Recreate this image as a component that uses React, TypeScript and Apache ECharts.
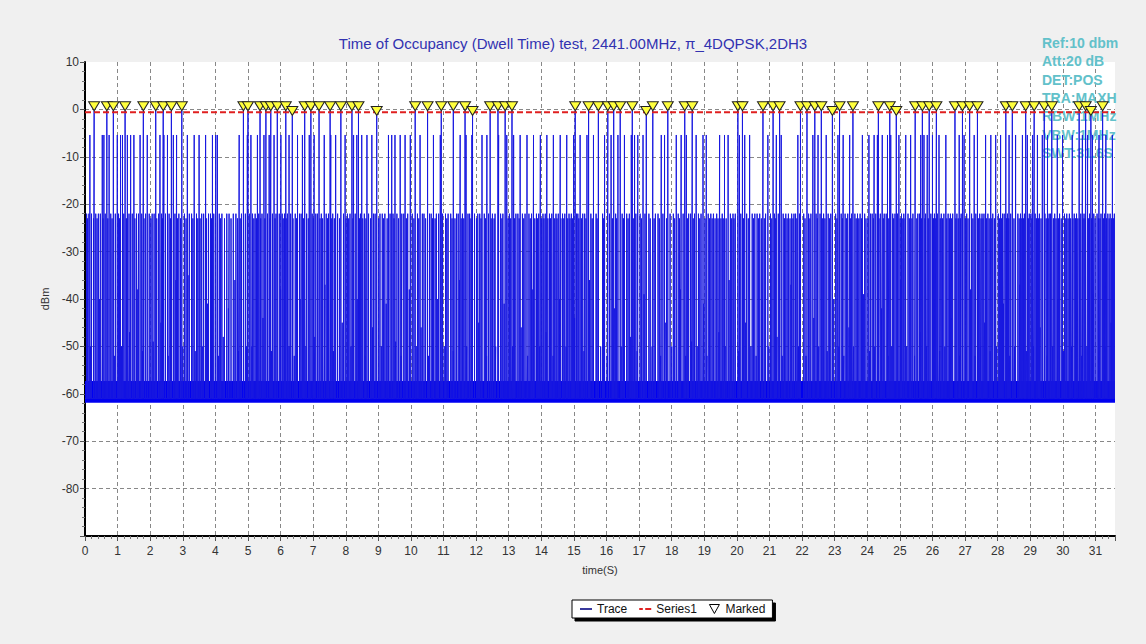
import React, { useEffect, useRef } from "react";
import * as echarts from "echarts";

const TITLE = "Time of Occupancy (Dwell Time) test, 2441.00MHz, π_4DQPSK,2DH3";
const INFO_LINES = ["Ref:10 dbm", "Att:20 dB", "DET:POS", "TRA:MAXH", "RBW:1MHz", "VBW:1MHz", "SWT:31.6S"];
const X_MIN = 0;
const X_MAX = 31.6;
const Y_MIN = -90;
const Y_MAX = 10;
const NOISE_FLOOR = -61;
const NOISE_BAND = [-61.9, -57.3];
const THRESHOLD = -0.6;
const MID_LEVEL = -5.4;
const LOW_LEVEL = -22;
const LOW_LEVEL_2 = -23;

// [time (s), peak (dBm)] of the marked hops
const markedPulses: [number, number][] = [
  [0.28, -0.3], [0.67, -0.3], [0.87, -0.3], [1.23, -0.3], [1.79, -0.3], [2.17, -0.3], [2.4, -0.3],
  [2.65, -0.3], [2.97, -0.3], [4.86, -0.3], [5.0, -0.3], [5.37, -0.3], [5.55, -0.3], [5.7, -0.3],
  [5.9, -0.3], [6.16, -0.3], [6.36, -1.3], [6.74, -0.3], [6.93, -0.3], [7.18, -0.3], [7.52, -0.3],
  [7.85, -0.3], [8.19, -0.3], [8.39, -0.3], [8.95, -1.3], [10.13, -0.3], [10.51, -0.3], [10.93, -0.3],
  [11.3, -0.3], [11.66, -0.3], [11.89, -1.3], [12.43, -0.3], [12.67, -0.3], [12.89, -0.3], [13.1, -0.3],
  [15.04, -0.3], [15.45, -0.3], [15.75, -0.3], [16.04, -0.3], [16.22, -0.3], [16.42, -0.3], [16.79, -0.3],
  [17.22, -1.3], [17.42, -0.3], [17.88, -0.3], [18.4, -0.3], [18.63, -0.3], [20.03, -0.3], [20.17, -0.3],
  [20.8, -0.3], [21.11, -0.3], [21.31, -0.3], [21.95, -0.3], [22.15, -0.3], [22.39, -0.3], [22.59, -0.3],
  [22.93, -1.3], [23.15, -0.3], [23.56, -0.3], [24.34, -0.3], [24.69, -0.3], [24.89, -1.3], [25.47, -0.3],
  [25.69, -0.3], [25.9, -0.3], [26.12, -0.3], [26.69, -0.3], [26.92, -0.3], [27.14, -0.3], [27.38, -0.3],
  [28.25, -0.3], [28.45, -0.3], [28.86, -0.3], [29.12, -0.3], [29.43, -0.3], [29.66, -0.3], [30.5, -0.3],
  [30.7, -0.3], [30.86, -1.3], [31.22, -0.3],
];

// hops that peak near -5.4 dBm
const midPulseTimes = [
  0.15, 0.53, 0.58, 0.74, 0.99, 1.09, 1.15, 1.3, 1.4, 1.5, 1.69, 1.91, 2.3, 2.42, 2.53, 2.71, 2.81,
  3.14, 3.35, 3.5, 3.7, 3.91, 4.01, 4.06, 4.73, 4.98, 5.09, 5.29, 5.49, 5.65, 5.8, 6.01, 6.26, 6.52,
  6.67, 6.88, 7.03, 7.34, 7.54, 7.69, 7.98, 8.24, 8.34, 8.49, 8.65, 8.8, 9.31, 9.41, 9.51, 9.67, 9.82,
  9.98, 10.28, 10.69, 10.9, 11.51, 11.69, 11.87, 12.18, 12.33, 12.69, 12.94, 13.15, 13.35, 13.56, 13.76,
  13.97, 14.17, 14.37, 14.58, 14.78, 14.99, 15.19, 15.4, 15.6, 15.94, 16.14, 16.35, 16.55, 16.76, 16.86,
  16.96, 17.12, 17.68, 17.78, 18.14, 18.29, 18.45, 18.75, 18.96, 19.06, 19.47, 19.62, 19.73, 20.08,
  20.24, 20.39, 20.95, 21.21, 21.36, 21.87, 22.33, 22.49, 22.74, 23.1, 23.26, 23.46, 23.85, 24.05, 24.21,
  24.31, 24.46, 24.62, 24.72, 24.97, 25.18, 25.33, 25.64, 25.74, 25.84, 26.0, 26.2, 26.41, 26.82, 26.97,
  27.28, 27.63, 27.79, 27.94, 28.09, 28.35, 28.55, 28.76, 28.91, 29.07, 29.22, 29.37, 29.53, 29.83,
  29.99, 30.29, 30.6, 30.76, 30.91, 31.11, 31.32, 31.52,
];

// hops that peak near -22 dBm
const lowPulseTimes = [
  0.05, 0.12, 0.2, 0.33, 0.41, 0.47, 0.62, 0.79, 0.93, 1.03, 1.19, 1.35, 1.45, 1.58, 1.64, 1.74, 1.86,
  1.97, 2.06, 2.12, 2.26, 2.35, 2.47, 2.58, 2.76, 2.88, 3.05, 3.2, 3.27, 3.42, 3.58, 3.64, 3.79, 3.85,
  3.95, 4.12, 4.2, 4.35, 4.42, 4.55, 4.63, 4.8, 4.92, 5.04, 5.14, 5.22, 5.33, 5.43, 5.6, 5.75, 5.86,
  5.96, 6.05, 6.12, 6.21, 6.31, 6.45, 6.58, 6.63, 6.8, 6.97, 7.08, 7.13, 7.25, 7.4, 7.47, 7.6, 7.75,
  7.93, 8.05, 8.13, 8.29, 8.45, 8.57, 8.7, 8.85, 8.9, 9.05, 9.12, 9.2, 9.36, 9.45, 9.57, 9.72, 9.78,
  9.9, 10.04, 10.2, 10.35, 10.4, 10.57, 10.62, 10.78, 10.85, 10.97, 11.06, 11.14, 11.22, 11.4, 11.45,
  11.58, 11.75, 11.8, 11.95, 12.05, 12.11, 12.25, 12.38, 12.5, 12.58, 12.75, 12.82, 13.02, 13.22,
  13.28, 13.42, 13.5, 13.62, 13.7, 13.85, 13.92, 14.05, 14.12, 14.25, 14.32, 14.45, 14.52, 14.65,
  14.72, 14.85, 14.92, 15.08, 15.12, 15.27, 15.33, 15.52, 15.68, 15.88, 16.09, 16.28, 16.48, 16.62,
  16.7, 16.9, 17.03, 17.18, 17.3, 17.5, 17.58, 17.73, 17.95, 18.05, 18.2, 18.35, 18.52, 18.58, 18.7,
  18.82, 18.9, 19.12, 19.2, 19.28, 19.38, 19.55, 19.8, 19.88, 19.95, 20.12, 20.3, 20.47, 20.55, 20.62,
  20.7, 20.88, 21.03, 21.15, 21.27, 21.42, 21.5, 21.58, 21.68, 21.75, 21.8, 21.92, 22.05, 22.2, 22.27,
  22.43, 22.55, 22.66, 22.8, 22.88, 23.03, 23.2, 23.32, 23.4, 23.52, 23.62, 23.7, 23.78, 23.92, 24.1,
  24.15, 24.26, 24.4, 24.52, 24.58, 24.78, 24.85, 24.93, 25.05, 25.12, 25.25, 25.4, 25.55, 25.6, 25.79,
  25.95, 26.06, 26.15, 26.27, 26.35, 26.48, 26.55, 26.62, 26.75, 26.88, 27.05, 27.2, 27.33, 27.45,
  27.52, 27.58, 27.7, 27.85, 28.02, 28.15, 28.2, 28.3, 28.4, 28.62, 28.7, 28.82, 28.97, 29.02, 29.15,
  29.28, 29.45, 29.58, 29.62, 29.75, 29.9, 30.05, 30.12, 30.2, 30.35, 30.42, 30.55, 30.65, 30.82,
  30.95, 31.05, 31.17, 31.28, 31.38, 31.45, 31.58,
];

// hops that peak a little lower, near -23 dBm
const lowPulseTimes2 = [
  0.08, 0.26, 0.37, 0.55, 0.7, 0.83, 1.06, 1.27, 1.53, 1.81, 2.02, 2.2, 2.38, 2.62, 2.84, 2.93, 3.1,
  3.31, 3.46, 3.53, 3.73, 3.88, 4.16, 4.28, 4.48, 4.68, 4.76, 5.18, 5.26, 5.39, 5.52, 5.68, 5.83, 6.08,
  6.17, 6.38, 6.49, 6.7, 6.85, 7.01, 7.21, 7.29, 7.44, 7.57, 7.65, 7.81, 8.01, 8.09, 8.22, 8.42, 8.52,
  8.62, 8.76, 9.01, 9.16, 9.27, 9.48, 9.62, 9.86, 10.09, 10.24, 10.45, 10.66, 10.74, 11.1, 11.26, 11.35,
  11.54, 11.62, 11.84, 12.01, 12.15, 12.29, 12.46, 12.55, 12.79, 12.98, 13.06, 13.18, 13.32, 13.46,
  13.66, 13.8, 13.88, 14.01, 14.08, 14.2, 14.28, 14.41, 14.48, 14.6, 14.69, 14.81, 14.88, 14.96, 15.15,
  15.23, 15.37, 15.56, 15.71, 15.91, 16.18, 16.31, 16.52, 16.66, 16.82, 17.07, 17.34, 17.46, 17.62,
  17.84, 18.09, 18.24, 18.48, 18.66, 18.86, 19.02, 19.16, 19.24, 19.33, 19.42, 19.51, 19.58, 19.67,
  19.84, 19.91, 20.2, 20.35, 20.51, 20.66, 20.75, 20.84, 21.07, 21.19, 21.46, 21.54, 21.63, 21.72,
  21.84, 22.09, 22.24, 22.47, 22.62, 22.7, 22.84, 23.07, 23.24, 23.36, 23.49, 23.66, 23.74, 23.82,
  23.96, 24.02, 24.19, 24.36, 24.49, 24.66, 24.81, 25.01, 25.09, 25.16, 25.29, 25.37, 25.52, 25.66,
  25.77, 25.87, 26.03, 26.1, 26.24, 26.31, 26.44, 26.52, 26.59, 26.72, 26.79, 26.86, 27.01, 27.09,
  27.24, 27.41, 27.49, 27.55, 27.66, 27.74, 27.82, 27.9, 28.06, 28.12, 28.27, 28.34, 28.5, 28.66,
  28.74, 28.79, 28.94, 29.05, 29.19, 29.25, 29.33, 29.49, 29.55, 29.71, 29.79, 29.87, 29.95, 30.09,
  30.16, 30.24, 30.31, 30.39, 30.46, 30.52, 30.62, 30.68, 30.79, 30.88, 30.99, 31.09, 31.14, 31.25,
  31.34, 31.42, 31.49, 31.55,
];

// weaker hops, [time (s), peak (dBm)]
const weakPulses: [number, number][] = [
  [0.17, -50], [0.44, -40], [0.9, -52], [1.12, -50], [1.37, -47], [1.62, -38], [1.77, -51], [2.09, -49],
  [2.33, -45], [2.55, -52], [2.79, -36], [3.0, -50], [3.16, -35], [3.38, -51], [3.6, -50], [3.76, -41],
  [4.09, -52], [4.24, -48], [4.4, -42], [4.6, -36], [4.71, -51], [4.95, -50], [5.12, -50], [5.46, -44],
  [5.72, -51], [6.0, -38], [6.26, -50], [6.42, -52], [6.6, -40], [6.78, -50], [7.05, -48], [7.36, -37],
  [7.62, -51], [7.89, -45], [8.16, -50], [8.35, -40], [8.6, -52], [8.82, -46], [9.09, -50], [9.24, -41],
  [9.53, -49], [9.7, -52], [9.95, -38], [10.16, -50], [10.31, -46], [10.54, -52], [10.82, -40],
  [11.02, -50], [11.3, -51], [11.49, -36], [11.71, -50], [12.08, -45], [12.32, -52], [12.6, -50],
  [12.86, -41], [13.12, -50], [13.38, -46], [13.58, -52], [13.74, -38], [13.95, -50], [14.15, -47],
  [14.36, -52], [14.56, -40], [14.76, -50], [15.02, -44], [15.31, -51], [15.48, -36], [15.82, -50],
  [16.02, -52], [16.24, -42], [16.45, -50], [16.73, -48], [16.94, -51], [17.15, -39], [17.4, -50],
  [17.66, -52], [17.8, -45], [18.0, -50], [18.27, -38], [18.43, -52], [18.61, -49], [18.78, -50],
  [18.98, -41], [19.08, -52], [19.45, -47], [19.64, -50], [19.76, -36], [20.06, -51], [20.27, -45],
  [20.43, -50], [20.59, -52], [20.78, -40], [20.98, -50], [21.23, -48], [21.39, -52], [21.66, -37],
  [21.89, -50], [22.12, -52], [22.36, -44], [22.51, -50], [22.77, -51], [22.97, -40], [23.13, -50],
  [23.28, -52], [23.44, -46], [23.58, -50], [23.88, -39], [24.07, -51], [24.23, -50], [24.44, -42],
  [24.64, -52], [24.75, -50], [25.03, -36], [25.21, -50], [25.45, -52], [25.62, -47], [25.82, -50],
  [26.08, -40], [26.22, -51], [26.38, -50], [26.57, -44], [26.84, -52], [27.03, -50], [27.17, -38],
  [27.31, -52], [27.47, -50], [27.6, -45], [27.77, -51], [27.97, -50], [28.18, -41], [28.37, -52],
  [28.52, -50], [28.68, -37], [28.88, -51], [29.1, -50], [29.3, -46], [29.52, -52], [29.69, -50],
  [29.85, -40], [30.02, -51], [30.27, -50], [30.44, -43], [30.58, -52], [30.74, -50], [30.93, -39],
  [31.12, -51], [31.3, -50], [31.48, -45],
];

const FONT = "Arial, 'Liberation Sans', sans-serif";
const TRI_PATH = "path://M0,0L10,0L5,9Z";

function buildTrace(): [number, number][] {
  const pulses: [number, number][] = [
    ...markedPulses,
    ...midPulseTimes.map((t) => [t, MID_LEVEL] as [number, number]),
    ...lowPulseTimes.map((t) => [t, LOW_LEVEL] as [number, number]),
    ...lowPulseTimes2.map((t) => [t, LOW_LEVEL_2] as [number, number]),
    ...weakPulses,
  ].sort((a, b) => a[0] - b[0]);
  const out: [number, number][] = [[X_MIN, NOISE_FLOOR]];
  for (const [t, v] of pulses) {
    out.push([t, NOISE_FLOOR], [t, v], [t, NOISE_FLOOR]);
  }
  out.push([X_MAX, NOISE_FLOOR]);
  return out;
}

export default function App() {
  const ref = useRef<HTMLDivElement>(null);
  useEffect(() => {
    if (!ref.current) return;
    const chart = echarts.init(ref.current, undefined, { renderer: "svg" });
    const axisLabel = { color: "#333", fontSize: 12, fontFamily: FONT };
    const splitLine = { show: true, showMaxLine: false, lineStyle: { color: "#888", type: [4, 3], width: 1 } };
    chart.setOption({
      animation: false,
      backgroundColor: "#f0f0f0",
      title: {
        text: TITLE,
        left: "center",
        top: 31,
        textStyle: { color: "#3232b0", fontSize: 15, fontWeight: "normal", fontFamily: FONT },
      },
      legend: {
        left: 572,
        top: 600,
        orient: "horizontal",
        padding: [3, 7, 3, 8],
        itemGap: 12,
        itemWidth: 12,
        itemHeight: 9,
        backgroundColor: "#fff",
        borderColor: "#000",
        borderWidth: 1,
        borderRadius: 0,
        shadowColor: "#000",
        shadowBlur: 0,
        shadowOffsetX: 3,
        shadowOffsetY: 3,
        textStyle: { color: "#111", fontSize: 12, fontFamily: FONT },
        data: [
          { name: "Trace", icon: "path://M0,4h10v1.3h-10z", itemStyle: { color: "#000080" } },
          { name: "Series1", icon: "path://M0,4h3v1.6h-3z M5,4h5v1.6h-5z", itemStyle: { color: "#e02020" } },
          { name: "Marked", icon: TRI_PATH, itemStyle: { color: "#fff", borderColor: "#000", borderWidth: 1 } },
        ],
      },
      grid: {
        left: 85,
        right: 31,
        top: 62,
        bottom: 108,
        show: true,
        backgroundColor: "#fff",
        borderWidth: 0,
      },
      xAxis: {
        type: "value",
        min: X_MIN,
        max: X_MAX,
        interval: 1,
        name: "time(S)",
        nameLocation: "middle",
        nameGap: 28,
        nameTextStyle: { color: "#333", fontSize: 11, fontFamily: FONT },
        axisLine: { show: true, onZero: false, lineStyle: { color: "#000", width: 2 } },
        axisTick: { show: true, length: 5, lineStyle: { color: "#555" } },
        minorTick: { show: true, splitNumber: 5, length: 3, lineStyle: { color: "#777" } },
        axisLabel: { ...axisLabel, margin: 9, showMaxLabel: false },
        splitLine,
      },
      yAxis: {
        type: "value",
        min: Y_MIN,
        max: Y_MAX,
        interval: 10,
        name: "dBm",
        nameLocation: "middle",
        nameGap: 33,
        nameTextStyle: { color: "#333", fontSize: 11, fontFamily: FONT },
        axisLine: { show: true, onZero: false, lineStyle: { color: "#000", width: 2 } },
        axisTick: { show: true, length: 5, lineStyle: { color: "#555" } },
        minorTick: { show: true, splitNumber: 5, length: 3, lineStyle: { color: "#777" } },
        axisLabel: { ...axisLabel, margin: 6, showMinLabel: false },
        splitLine: { ...splitLine, showMinLine: false },
      },
      graphic: [
        {
          type: "text",
          left: 1042,
          top: 34,
          z: 1,
          style: {
            text: INFO_LINES.join("\n"),
            fill: "#62c1ca",
            font: `bold 14px ${FONT}`,
            lineHeight: 18.3,
          },
        },
      ],
      series: [
        {
          name: "Trace",
          type: "line",
          data: buildTrace(),
          showSymbol: false,
          symbol: "none",
          lineStyle: { color: "#1818e0", width: 1 },
          itemStyle: { color: "#000080" },
          z: 2,
          markArea: {
            silent: true,
            itemStyle: { color: "#0000f0", opacity: 1 },
            data: [[{ yAxis: NOISE_BAND[0] }, { yAxis: NOISE_BAND[1] }]],
          },
        },
        {
          name: "Series1",
          type: "line",
          data: [
            [X_MIN, THRESHOLD],
            [X_MAX, THRESHOLD],
          ],
          showSymbol: false,
          symbol: "none",
          lineStyle: { color: "#e02020", width: 2, type: [6, 3] },
          itemStyle: { color: "#e02020" },
          z: 3,
        },
        {
          name: "Marked",
          type: "scatter",
          data: markedPulses,
          symbol: TRI_PATH,
          symbolSize: [11, 9],
          symbolKeepAspect: false,
          symbolOffset: [0, -4.5],
          itemStyle: { color: "#ffff3c", borderColor: "#222", borderWidth: 1, opacity: 1 },
          z: 4,
        },
      ],
    });
    return () => chart.dispose();
  }, []);
  return (
    <div
      ref={ref}
      style={{ position: "fixed", left: 0, top: 0, width: 1146, height: 644 }}
    />
  );
}
